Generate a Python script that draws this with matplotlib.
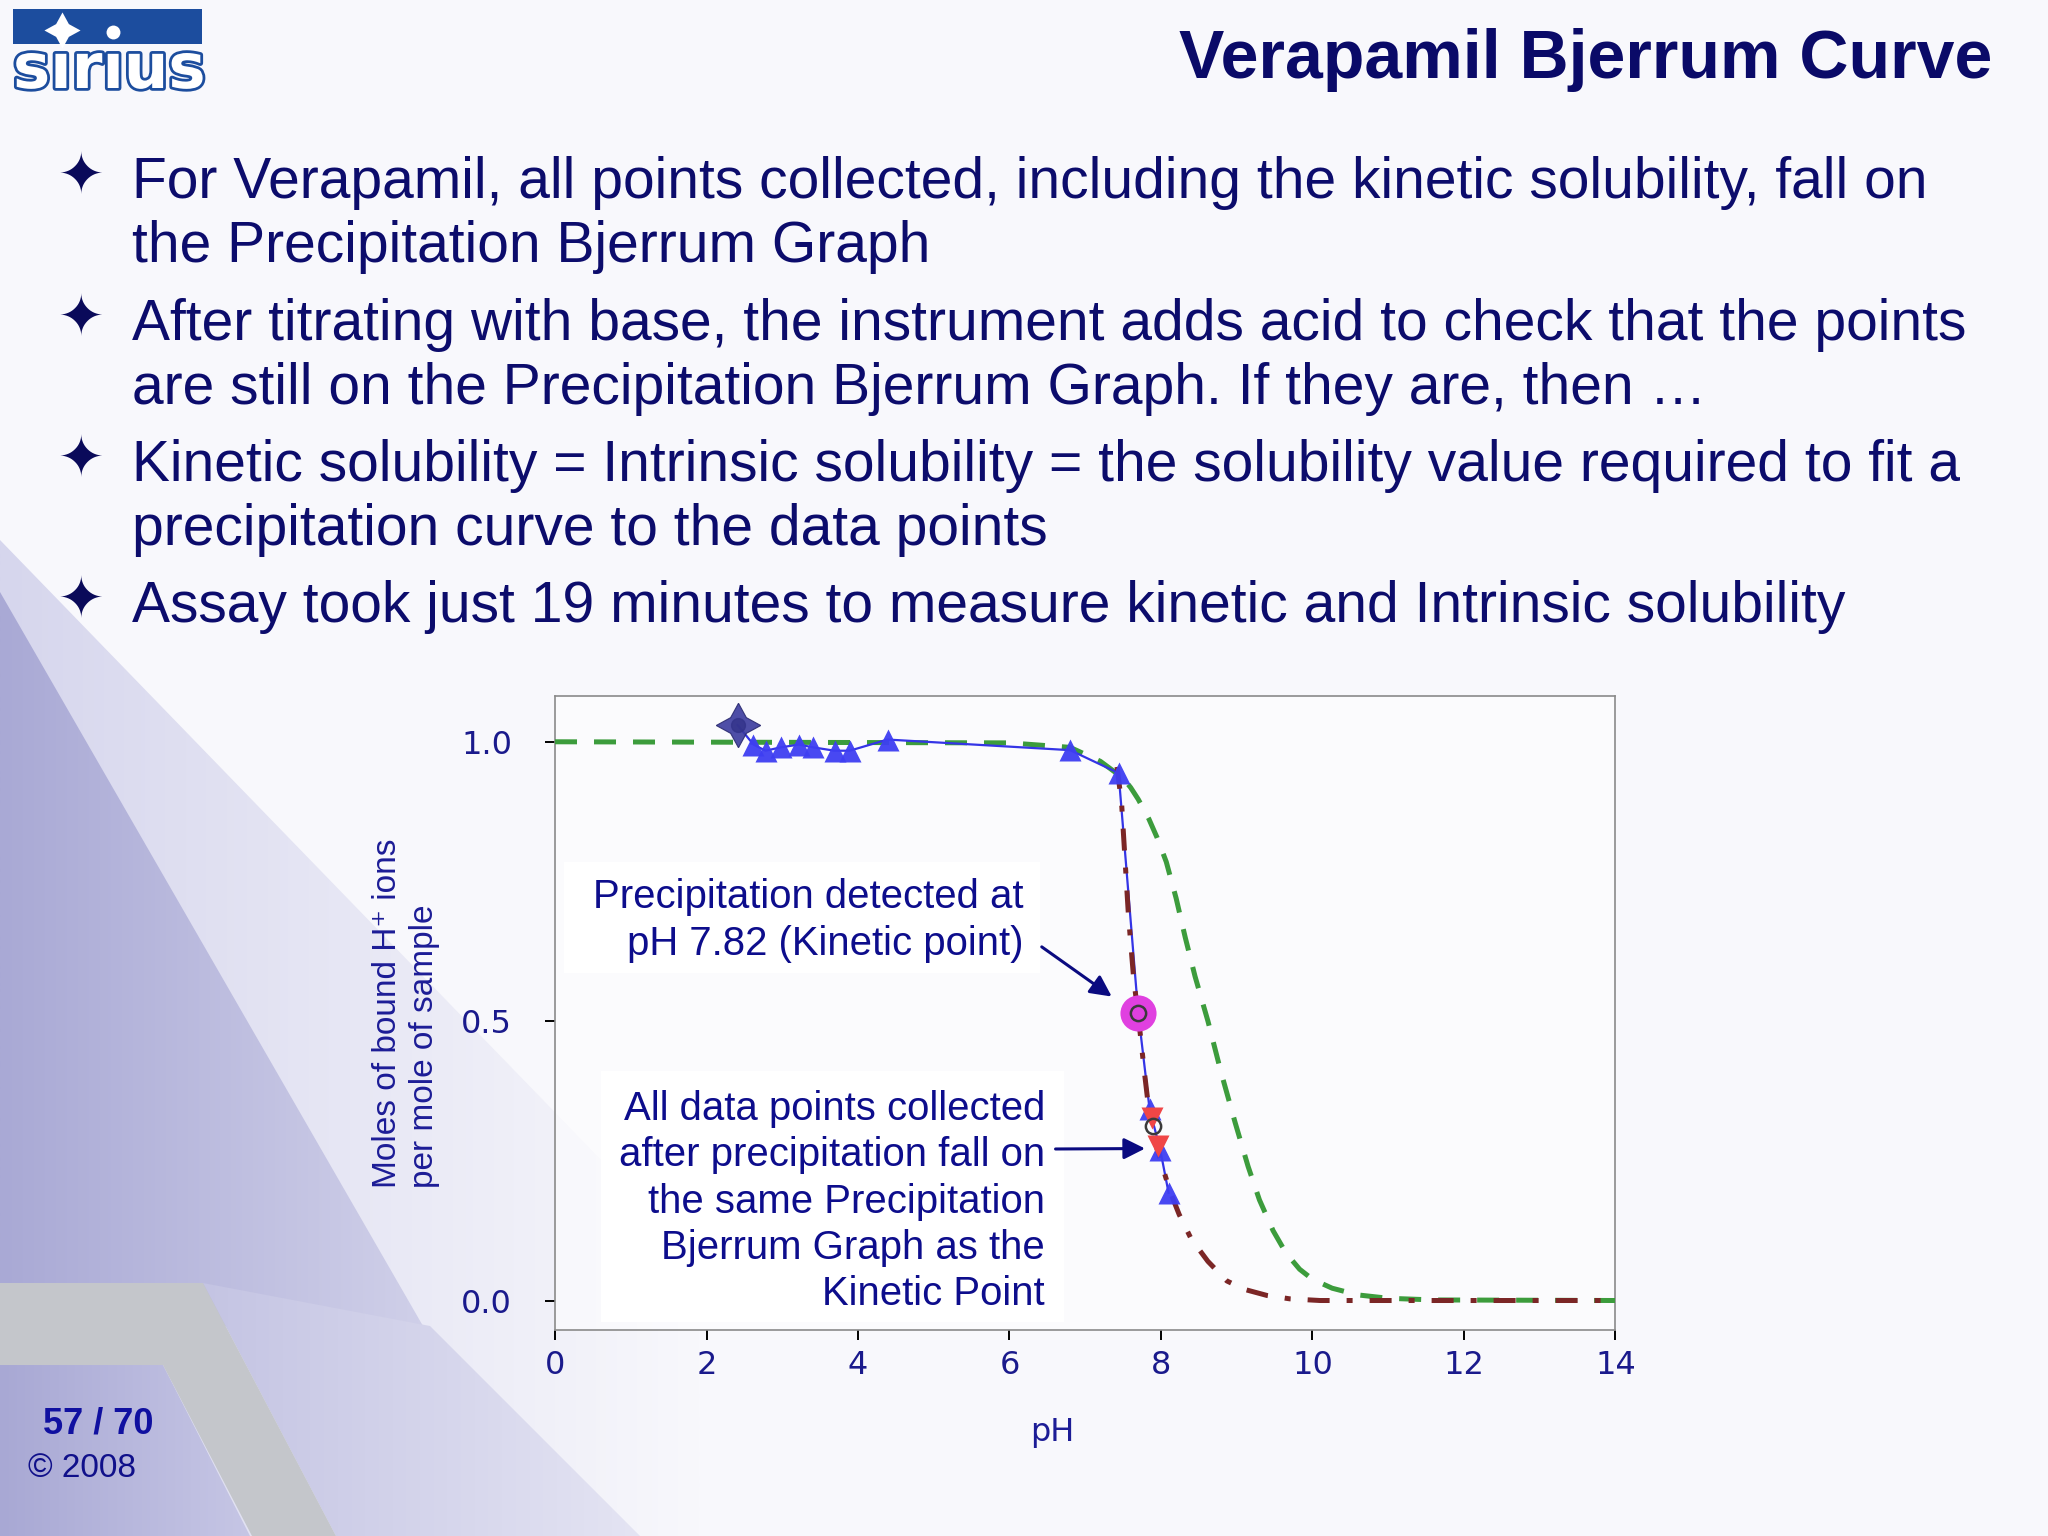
import numpy as np
import matplotlib
matplotlib.use('Agg')
import matplotlib.pyplot as plt
import matplotlib.patheffects as pe
from matplotlib.patches import Polygon, Rectangle
from matplotlib.colors import LinearSegmentedColormap
from matplotlib.ticker import FormatStrFormatter

# --- data ----------------------------------------------------------------
# kinetic solubility start point (4-point star)
star_ph = [2.41]
star_y = [1.030]

# base titration points (blue triangles), in the order they were taken
tri_ph = [2.62, 2.78, 2.98, 3.22, 3.41, 3.69, 3.89, 4.39, 6.80, 7.44,
          7.85, 7.99, 8.10]
tri_y = [0.995, 0.984, 0.990, 0.995, 0.990, 0.984, 0.984, 1.004, 0.985,
         0.944, 0.342, 0.270, 0.193]

# kinetic point where precipitation was detected
kin_ph = [7.70]
kin_y = [0.514]

# acid back-titration points (red down triangles)
acid_ph = [7.88, 7.96]
acid_y = [0.327, 0.276]

# open circles
ring_ph = [7.70, 7.90]
ring_y = [0.514, 0.312]

# Bjerrum curve of the dissolved sample (green dashes)
bj_ph = [0.0, 6.0, 6.8, 7.2, 7.5, 7.6, 7.7, 7.84, 7.95, 8.07, 8.20, 8.32,
         8.45, 8.62, 8.79, 8.98, 9.15, 9.30, 9.48, 9.65, 9.83, 10.0, 10.26,
         10.6, 11.0, 11.6, 14.0]
bj_y = [1.0, 0.998, 0.99, 0.965, 0.935, 0.918, 0.897, 0.862, 0.828, 0.785,
        0.72, 0.65, 0.58, 0.50, 0.41, 0.318, 0.24, 0.18, 0.125, 0.085,
        0.056, 0.038, 0.022, 0.010, 0.004, 0.001, 0.0]

# precipitation Bjerrum curve (brown dash-dot)
pr_ph = [7.42, 7.48, 7.57, 7.64, 7.70, 7.78, 7.86, 7.95, 8.03, 8.12, 8.24,
         8.40, 8.62, 8.87, 9.10, 9.40, 9.70, 10.1, 14.0]
pr_y = [0.955, 0.89, 0.69, 0.575, 0.51, 0.41, 0.318, 0.27, 0.235, 0.195,
        0.154, 0.11, 0.07, 0.035, 0.020, 0.009, 0.003, 0.0, 0.0]

x_ticks = [0, 2, 4, 6, 8, 10, 12, 14]
y_ticks = [0.0, 0.5, 1.0]

bullets = [
    ["For Verapamil, all points collected, including the kinetic solubility, fall on",
     "the Precipitation Bjerrum Graph"],
    ["After titrating with base, the instrument adds acid to check that the points",
     "are still on the Precipitation Bjerrum Graph. If they are, then \u2026"],
    ["Kinetic solubility = Intrinsic solubility = the solubility value required to fit a",
     "precipitation curve to the data points"],
    ["Assay took just 19 minutes to measure kinetic and Intrinsic solubility"],
]

NAVY = '#0c0c6c'
PAPER = '#f8f8fc'
W, H = 2048, 1536

fig = plt.figure(figsize=(20.48, 15.36), dpi=100, facecolor=PAPER)

# background layer in pixel coordinates
bg = fig.add_axes([0, 0, 1, 1], zorder=0)
bg.axis('off')


def grad_fill(poly, x0, x1, y0, y1, c0, c1, z=0.2):
    # left-to-right colour ramp clipped to a polygon
    patch = Polygon(poly, closed=True, fc='none', ec='none')
    bg.add_patch(patch)
    ramp = np.linspace(0, 1, 256).reshape(1, -1)
    cmap = LinearSegmentedColormap.from_list('ramp', [c0, c1])
    im = bg.imshow(ramp, cmap=cmap, extent=(x0, x1, y1, y0), aspect='auto',
                   interpolation='bilinear', zorder=z)
    im.set_clip_path(patch)


grad_fill([(0, 540), (640, 1200), (900, 1536), (0, 1536)],
          0, 700, 540, 1536, '#d6d6ed', PAPER, z=0.1)
grad_fill([(0, 592), (423, 1326), (0, 1326)],
          0, 430, 592, 1326, '#a9a9d5', '#d0d0e9', z=0.2)
grad_fill([(203, 1283), (430, 1326), (640, 1536), (336, 1536)],
          200, 640, 1283, 1536, '#c4c4e3', '#e4e4f3', z=0.2)
grad_fill([(0, 1365), (163, 1365), (250, 1536), (0, 1536)],
          0, 250, 1365, 1536, '#a8a8d4', '#c6c6e5', z=0.3)
bg.add_patch(Polygon([(0, 1283), (203, 1283), (336, 1536), (252, 1536),
                      (163, 1365), (0, 1365)], fc='#c4c6cb', ec='none',
                     zorder=0.4))

# logo
bg.add_patch(Rectangle((13, 9), 189, 35, fc='#1c4d9e', ec='none', zorder=1))
bg.text(13, 88, 's\u0131r\u0131us', fontsize=45, fontweight='bold',
        family='DejaVu Sans', color='white', ha='left', va='baseline',
        path_effects=[pe.withStroke(linewidth=4, foreground='#1c4d9e')])
bg.plot([62], [30], marker=(4, 1, 0), color='white', ms=26, mec='none',
        zorder=2)
bg.plot([113], [32], 'o', color='white', ms=10, mec='none', zorder=2)

# title
bg.text(1992, 78, 'Verapamil Bjerrum Curve', fontsize=49, fontweight='bold',
        family='Liberation Sans', color='#0a0a68', ha='right', va='baseline')

# bullets
baselines = [[198, 262], [340, 404], [481, 545], [622]]
for lines, ys in zip(bullets, baselines):
    bg.text(81, ys[0] - 20, '\u2726', fontsize=40, color='#0a0a5a',
            ha='center', va='center', family='DejaVu Sans')
    for txt, yb in zip(lines, ys):
        bg.text(132, yb, txt, fontsize=41, family='Liberation Sans',
                color=NAVY, ha='left', va='baseline')

# footer
bg.text(98, 1434, '57 / 70', fontsize=26, fontweight='bold',
        family='Liberation Sans', color='#1010a0', ha='center', va='baseline')
bg.text(82, 1477, '\u00a9 2008', fontsize=24, family='Liberation Sans',
        color='#10108a', ha='center', va='baseline')

bg.set_xlim(0, W)
bg.set_ylim(H, 0)

# --- chart -------------------------------------------------------------------
ax = fig.add_axes([0.271, 0.1344, 0.5178, 0.4125], zorder=2)
ax.set_facecolor((1, 1, 1, 0.5))
ax.set_xlim(0, 14)
ax.set_ylim(-0.052, 1.082)

ax.plot(bj_ph, bj_y, color='#3c9c3c', lw=3.6, dashes=(4.4, 3.4), zorder=3)

line_ph = star_ph + tri_ph[:10] + kin_ph + tri_ph[10:]
line_y = star_y + tri_y[:10] + kin_y + tri_y[10:]
ax.plot(line_ph, line_y, color='#3434e6', lw=1.6, zorder=4)
ax.plot(pr_ph, pr_y, color='#7b2626', lw=3.6,
        dashes=(4.4, 3.4, 1.2, 3.4), zorder=4.5)
ax.plot(tri_ph, tri_y, '^', color='#3e3ef2', ms=16, mec='none', alpha=0.95,
        zorder=5)
ax.plot(star_ph, star_y, marker=(4, 1, 0), color='#3b3b9e', ms=32,
        mec='#2a2a70', mew=0.8, alpha=0.9, ls='none', zorder=6)
ax.plot(star_ph, star_y, 'o', color='#33338a', ms=10, alpha=0.8, zorder=6)
ax.plot(kin_ph, kin_y, 'o', color='#e040e0', ms=26, mec='none', zorder=6)
ax.plot(acid_ph, acid_y, 'v', color='#f04646', ms=16, mec='none', zorder=6)
ax.plot(ring_ph, ring_y, 'o', mfc='none', mec='#3a3a3a', ms=11, mew=1.8,
        zorder=7)

# annotation boxes
ax.add_patch(Rectangle((0.0086, 0.563), 0.449, 0.175, transform=ax.transAxes,
                       fc='white', ec='none', zorder=2.5))
ax.add_patch(Rectangle((0.043, 0.012), 0.437, 0.396, transform=ax.transAxes,
                       fc='white', ec='none', zorder=2.5))

ax.text(0.442, 0.645, 'Precipitation detected at\npH 7.82 (Kinetic point)',
        transform=ax.transAxes, ha='right', va='center', multialignment='right',
        fontsize=28.9, family='Liberation Sans', color='#0d0d8c',
        linespacing=1.3, zorder=8)
ax.text(0.462, 0.202,
        'All data points collected\nafter precipitation fall on\n'
        'the same Precipitation\nBjerrum Graph as the\nKinetic Point',
        transform=ax.transAxes, ha='right', va='center', multialignment='right',
        fontsize=28.9, family='Liberation Sans', color='#0d0d8c',
        linespacing=1.28, zorder=8)

arrow = dict(arrowstyle='-|>', color='#0a0a80', lw=2.2, mutation_scale=32,
             shrinkA=0, shrinkB=0)
ax.annotate('', xy=(kin_ph[0] - 0.35, kin_y[0] + 0.03), xycoords='data',
            xytext=(0.459, 0.604), textcoords='axes fraction',
            arrowprops=arrow, zorder=8)
ax.annotate('', xy=(acid_ph[1] - 0.17, acid_y[1] - 0.004), xycoords='data',
            xytext=(0.472, 0.285), textcoords='axes fraction',
            arrowprops=arrow, zorder=8)

for s in ax.spines.values():
    s.set_color('#8a8a8a')
    s.set_linewidth(1.2)

ax.set_xticks(x_ticks)
ax.set_yticks(y_ticks)
ax.yaxis.set_major_formatter(FormatStrFormatter('%.1f'))
ax.tick_params(direction='out', length=7, width=1.4, color='black',
               labelsize=23, labelcolor='#1a1a8c')
ax.tick_params(axis='x', pad=8)
ax.tick_params(axis='y', pad=24)
for lab in ax.get_xticklabels() + ax.get_yticklabels():
    lab.set_family('DejaVu Sans')

ax.set_xlabel('pH', fontsize=23, color='#1c1c96', family='DejaVu Sans')
ax.xaxis.set_label_coords(0.469, -0.138)
ax.set_ylabel('Moles of bound H\u207a ions\nper mole of sample', fontsize=24,
              color='#1c1c96', family=['Liberation Sans', 'DejaVu Sans'],
              multialignment='left', linespacing=1.25)
ax.yaxis.set_label_coords(-0.108, 0.5)

fig.savefig('out.png', dpi=100, facecolor=fig.get_facecolor())
